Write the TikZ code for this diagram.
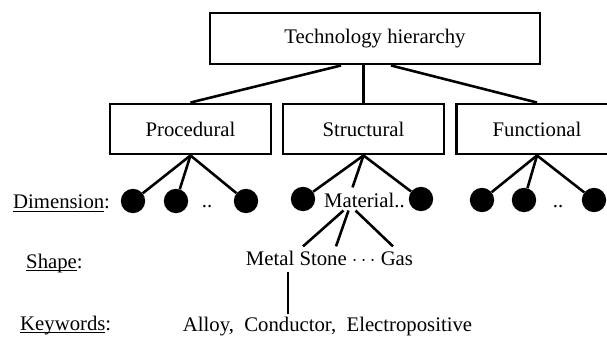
\documentclass[tikz,border=0pt]{standalone}
\usepackage{fontspec}
\setmainfont{Liberation Serif}
\usepackage{tikz}
\usetikzlibrary{calc,positioning}
\newcommand{\ulword}[1]{\setbox0\hbox{#1}\rlap{\rule[-2.6pt]{\wd0}{0.8pt}}\box0}
\tikzset{
	every node/.style={font=\fontsize{17.7pt}{21pt}\selectfont},
	box/.style = {
			draw,
			line width      = 2.5pt,
			minimum height  = 15mm,
			minimum width   = 48.3mm,
			inner sep       = 0pt,
		},
	vertex/.style = {
			circle,
			fill            = black,
			minimum size    = 7.3mm,
			inner sep       = 0pt,
		},
	lab/.style = {anchor=base, inner sep=0pt},
	link/.style = {line width=2.2pt},
}

\begin{document}
\begin{tikzpicture}[x=0.3mm, y=-0.3mm]
	\useasboundingbox (0,0) rectangle (607,338);
	\clip (0,0) rectangle (607,338);

	% boxes
	\node[box, minimum width=99mm, minimum height=15.3mm] (top) at (375,38.5) {Technology hierarchy\hspace{12pt}};
	\node[box] (proc)  at (190.5,129) {Procedural};
	\node[box] (struc) at (363.5,129) {Structural};
	\node[box] (func)  at (537,129)   {Functional};

	\draw[link] ($(top.south)+(-34,0)$) -- (proc.north);
	\draw[link] (top.south -| struc.north) -- (struc.north);
	\draw[link] ($(top.south)+(16,0)$) -- (func.north);

	% dimensions
	\node[vertex] (p1) at (133,201) {};
	\node[vertex] (p2) at (176,201) {};
	\node[vertex] (p3) at (246,201) {};
	\node[vertex] (s1) at (303,199) {};
	\node[vertex] (s2) at (421,199) {};
	\node[vertex] (f1) at (482,200) {};
	\node[vertex] (f2) at (524,200) {};
	\node[vertex] (f3) at (594,200) {};
	\node[lab] (pdots) at (207,208) {..};
	\node[lab] (fdots) at (558,208) {..};
	\node[lab] (mat) at (364.5,207) {Material..};

	\foreach \d in {p1,p2,p3} \draw[link] (proc.south) -- (\d);
	\foreach \d in {f1,f2,f3} \draw[link] (func.south) -- (\d);
	\draw[link] (struc.south) -- (s1);
	\draw[link] (struc.south) -- (s2);
	\draw[link] (struc.south) -- ($(mat.north)+(-12,-5)$);

	% shapes and keywords
	\node[lab] (shp) at (329.5,266) {Metal Stone $\cdots$ Gas};
	\node[lab] (kw) at (327.5,332) {Alloy,\ \ Conductor,\ \ Electropositive};

	\draw[link] ($(mat.south)+(-21,3)$) -- ($(shp.north)+(-26.5,-5)$);
	\draw[link] ($(mat.south)+(-16,3)$) -- ($(shp.north)+(6.5,-5)$);
	\draw[link] ($(mat.south)+(-9,3)$)  -- ($(shp.north)+(63.5,-5)$);
	\draw[link] ($(shp.south)+(-41.5,6)$) -- ($(kw.north)+(-39.5,-3)$);

	% row labels
	\node[lab, anchor=base west] (dimlab)   at (13,209) {\ulword{Dimension}:};
	\node[lab, anchor=base west] (shapelab) at (26,268) {\ulword{Shape}:};
	\node[lab, anchor=base west] (kwlab)    at (20,330) {\ulword{Keywords}:};
\end{tikzpicture}
\end{document}
